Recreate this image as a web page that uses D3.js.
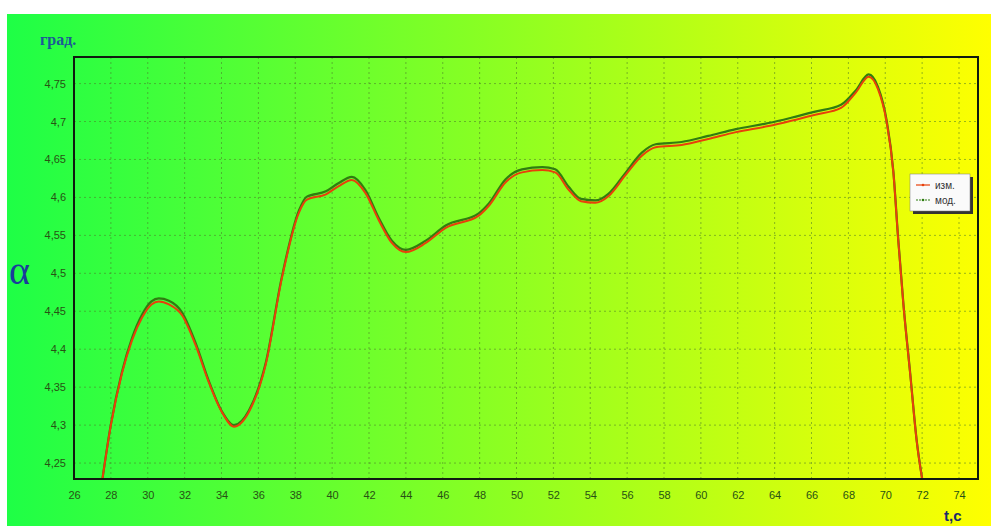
<!DOCTYPE html>
<html><head><meta charset="utf-8">
<script src="https://cdn.jsdelivr.net/npm/d3@7"></script>
<style>html,body{margin:0;padding:0;background:#fff;}svg{display:block;}</style>
</head><body>
<svg id="c" width="991" height="526"></svg>
<script>
const tValues = [27.5,28.0,28.6,29.15,29.7,30.2,30.6,31.15,31.85,32.6,33.3,34.0,34.67,35.5,36.4,37.27,38.2,38.63,39.66,40.36,41.07,41.8,42.53,43.24,44.0,45.08,46.16,47.95,48.5,49.41,50.3,51.4,52.1,52.83,53.5,54.27,55.0,55.9,56.8,57.55,58.95,60.4,61.9,63.67,64.9,66.2,67.6,68.4,69.1,69.6,70.07,70.44,70.7,70.99,71.35,71.7,72.05];
const izmValues = [4.222,4.300,4.368,4.412,4.442,4.459,4.463,4.459,4.445,4.405,4.357,4.318,4.298,4.318,4.380,4.493,4.580,4.597,4.604,4.615,4.623,4.606,4.570,4.540,4.528,4.540,4.560,4.576,4.589,4.620,4.633,4.636,4.633,4.610,4.595,4.593,4.602,4.629,4.655,4.666,4.669,4.677,4.686,4.694,4.701,4.709,4.718,4.738,4.759,4.743,4.700,4.633,4.545,4.457,4.368,4.280,4.222];
const modValues = [4.222,4.301,4.370,4.415,4.446,4.463,4.467,4.464,4.449,4.408,4.359,4.319,4.300,4.320,4.382,4.495,4.583,4.601,4.608,4.619,4.627,4.610,4.573,4.543,4.531,4.543,4.563,4.579,4.592,4.624,4.637,4.640,4.637,4.614,4.598,4.596,4.605,4.632,4.659,4.670,4.673,4.681,4.690,4.698,4.705,4.713,4.722,4.741,4.762,4.746,4.702,4.634,4.546,4.458,4.369,4.281,4.222];
const xTicks = [26,28,30,32,34,36,38,40,42,44,46,48,50,52,54,56,58,60,62,64,66,68,70,72,74];
const yTicks = [4.25,4.3,4.35,4.4,4.45,4.5,4.55,4.6,4.65,4.7,4.75];
const seriesNames = ["изм.","мод."];
const seriesColors = ["#e8400a","#2f7d10"];

const svg = d3.select("#c");
const defs = svg.append("defs");
const grad = defs.append("linearGradient").attr("id","bg").attr("x1","0").attr("x2","1").attr("y1","0").attr("y2","0");
grad.append("stop").attr("offset","0").attr("stop-color","#1eff46");
grad.append("stop").attr("offset","0.5").attr("stop-color","#8cff22");
grad.append("stop").attr("offset","1").attr("stop-color","#ffff00");
svg.append("rect").attr("x",7).attr("y",14).attr("width",984).attr("height",512).attr("fill","url(#bg)");

const L=74,T=57,R=978,B=479;
const x = d3.scaleLinear().domain([26,75.03]).range([L,R]);
const y = d3.scaleLinear().domain([4.229,4.785]).range([B,T]);

defs.append("clipPath").attr("id","clip").append("rect").attr("x",L).attr("y",T).attr("width",R-L).attr("height",B-T);

// grid
const grid = svg.append("g");
grid.selectAll("line.v").data(xTicks.filter(d=>d>26)).join("line")
  .attr("x1",d=>x(d)).attr("x2",d=>x(d)).attr("y1",T).attr("y2",B)
  .attr("stroke","#4c7a2a").attr("stroke-opacity",0.55).attr("stroke-width",1).attr("stroke-dasharray","2,3");
grid.selectAll("line.h").data(yTicks).join("line")
  .attr("x1",L).attr("x2",R).attr("y1",d=>y(d)).attr("y2",d=>y(d))
  .attr("stroke","#4c7a2a").attr("stroke-opacity",0.55).attr("stroke-width",1).attr("stroke-dasharray","2,3");

const fmt = d => String(+d.toFixed(2)).replace(".",",");
const xAxis = d3.axisBottom(x).tickValues(xTicks).tickFormat(d=>d).tickSize(0).tickPadding(12);
const yAxis = d3.axisLeft(y).tickValues(yTicks).tickFormat(fmt).tickSize(0).tickPadding(8);
const gx = svg.append("g").attr("transform",`translate(0,${B})`).call(xAxis);
const gy = svg.append("g").attr("transform",`translate(${L},0)`).call(yAxis);
[gx,gy].forEach(g=>{
  g.select(".domain").remove();
  g.selectAll("text").attr("fill","#285214").attr("font-family","Arial, 'Liberation Sans', sans-serif").attr("font-size",11);
});

// lines
const pts = (vals)=> tValues.map((t,i)=>[t,vals[i]]);
const line = d3.line().x(d=>x(d[0])).y(d=>y(d[1])).curve(d3.curveMonotoneX);
const plot = svg.append("g").attr("clip-path","url(#clip)");
plot.append("path").datum(pts(modValues)).attr("d",line).attr("fill","none").attr("stroke",seriesColors[1]).attr("stroke-width",2.2);
plot.append("path").datum(pts(izmValues)).attr("d",line).attr("fill","none").attr("stroke",seriesColors[0]).attr("stroke-width",2);

// frame
svg.append("rect").attr("x",L).attr("y",T).attr("width",R-L).attr("height",B-T)
  .attr("fill","none").attr("stroke","#101a10").attr("stroke-width",2);

// legend
const lg = svg.append("g").attr("transform","translate(910,174)");
lg.append("rect").attr("x",3).attr("y",3).attr("width",60).attr("height",37).attr("fill","#333");
lg.append("rect").attr("x",0).attr("y",0).attr("width",60).attr("height",37).attr("fill","#fafafa").attr("stroke","#777").attr("stroke-width",0.5);
seriesNames.forEach((n,i)=>{
  const yy = 11 + i*15;
  lg.append("line").attr("x1",6).attr("x2",20).attr("y1",yy).attr("y2",yy).attr("stroke",seriesColors[i]).attr("stroke-width",1.2)
    .attr("stroke-dasharray", i===1 ? "2,1" : null);
  lg.append("circle").attr("cx",13).attr("cy",yy).attr("r",1.3).attr("fill",seriesColors[i]);
  lg.append("text").attr("x",25).attr("y",yy+3.5).text(n).attr("font-family","Arial, 'Liberation Sans', sans-serif").attr("font-size",10).attr("fill","#333");
});

// labels
svg.append("text").attr("x",40).attr("y",45).text("град.").attr("font-family","'Liberation Serif', 'DejaVu Serif', serif").attr("font-weight","bold").attr("font-size",16).attr("fill","#1c5a96");
svg.append("text").attr("x",9).attr("y",284).text("α").attr("font-family","'Liberation Serif', 'DejaVu Serif', serif").attr("font-size",40).attr("fill","#1a3c9c");
svg.append("text").attr("x",944).attr("y",521).text("t,c").attr("font-family","'Liberation Sans', Arial, sans-serif").attr("font-weight","bold").attr("font-size",15).attr("fill","#1a2a6a");
</script>
</body></html>
